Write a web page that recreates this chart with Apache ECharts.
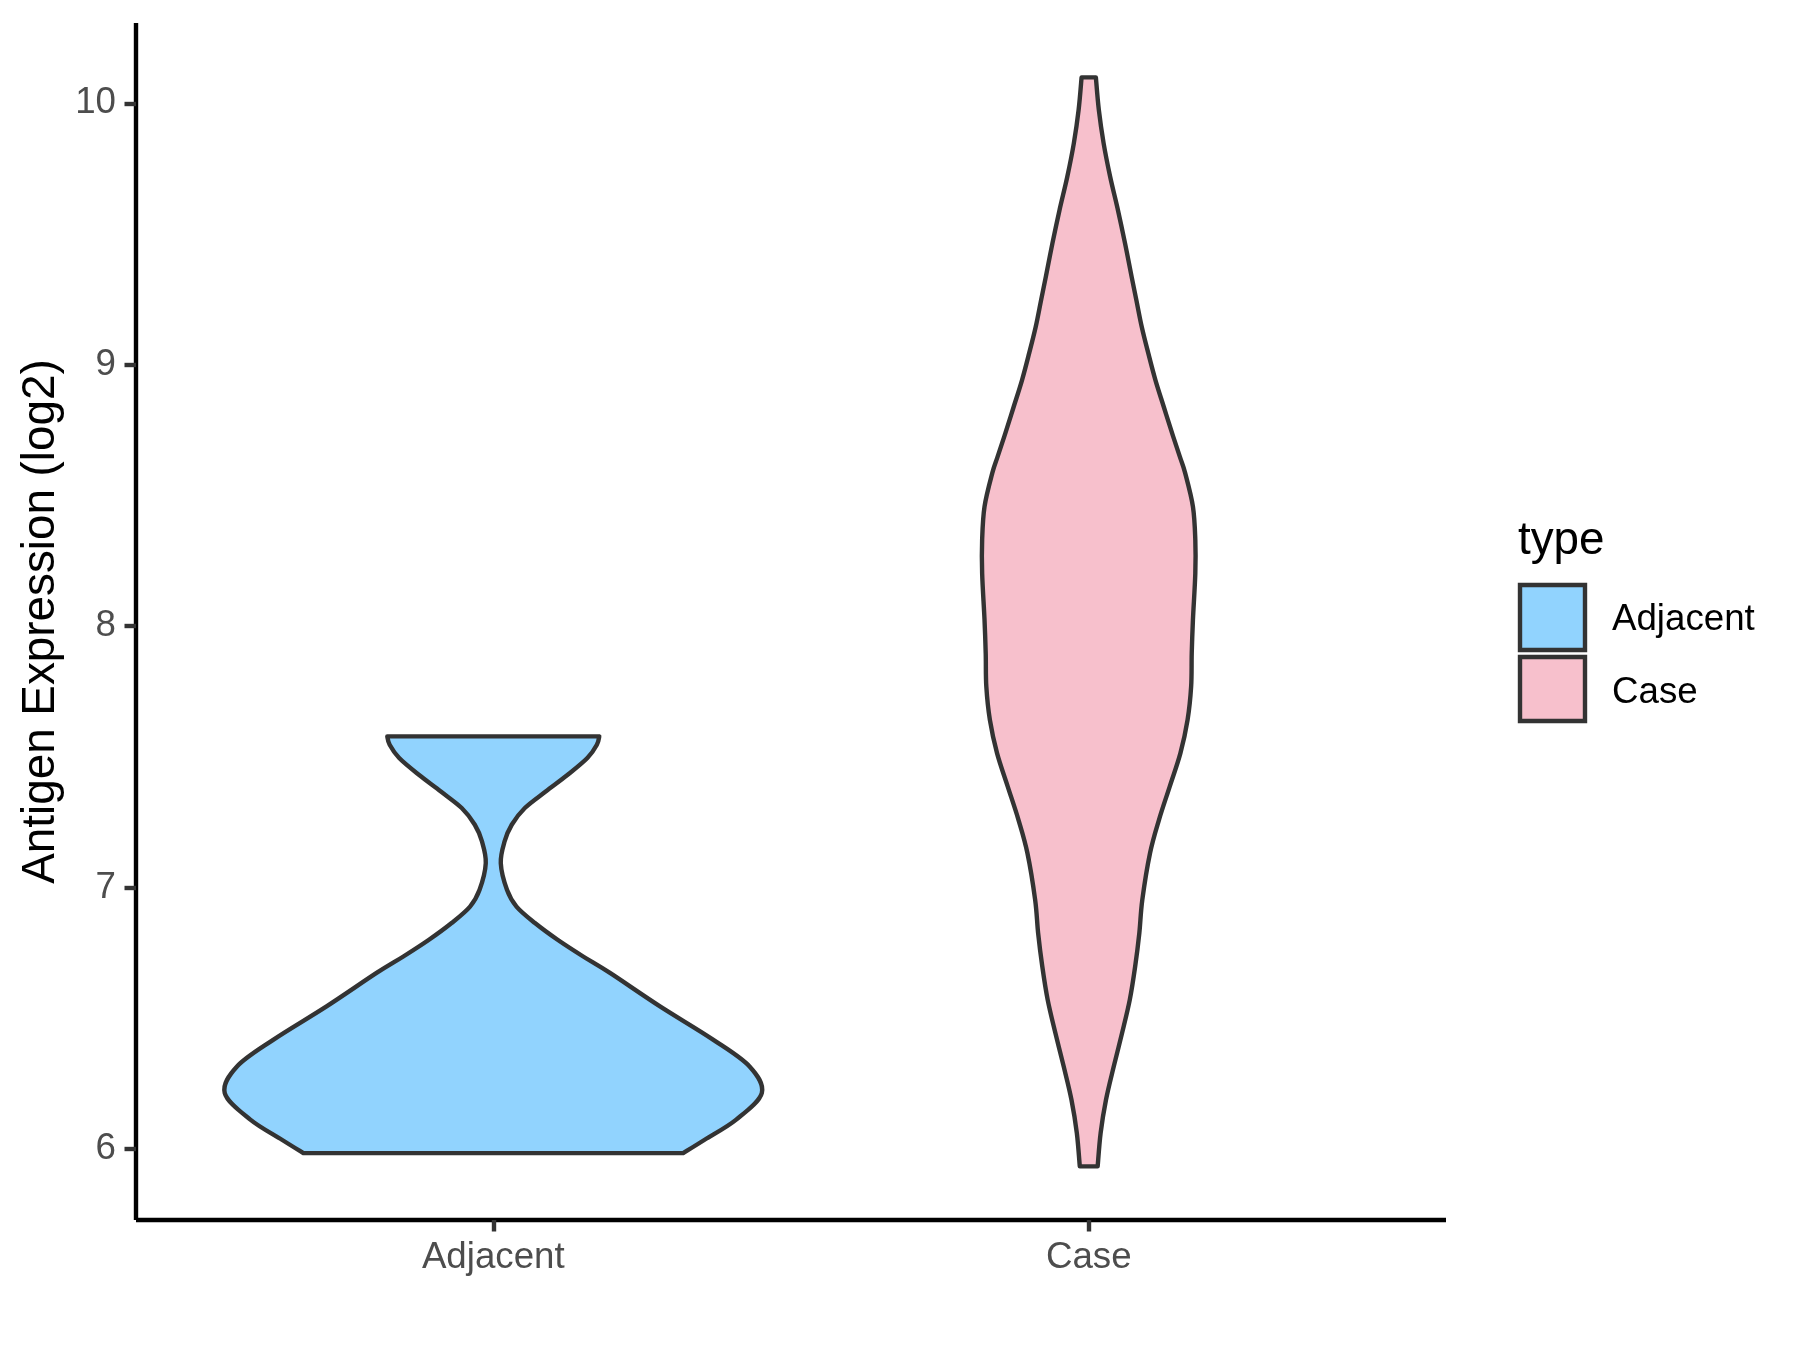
<!DOCTYPE html>
<html><head><meta charset="utf-8">
<script src="https://cdn.jsdelivr.net/npm/echarts@6/dist/echarts.min.js"></script>
<style>html,body{margin:0;padding:0;background:#fff}#c{width:1800px;height:1350px}</style>
</head><body><div id="c"></div>
<script>
const categories = ['Adjacent', 'Case'];
const yTicks = [6, 7, 8, 9, 10];
const yTitle = 'Antigen Expression (log2)';
const legendTitle = 'type';

// violin outlines: expression value and half-width (in category units)
const adjacentY = [5.984, 6.035, 6.112, 6.214, 6.316, 6.418, 6.545, 6.673, 6.736, 6.80, 6.864, 6.927, 6.991, 7.093, 7.176, 7.240, 7.304, 7.367, 7.431, 7.495, 7.546, 7.578];
const adjacentHalfWidth = [0.319, 0.355, 0.408, 0.451, 0.430, 0.369, 0.280, 0.196, 0.151, 0.108, 0.070, 0.039, 0.023, 0.0126, 0.019, 0.031, 0.053, 0.088, 0.125, 0.158, 0.174, 0.178];
const caseY = [5.933, 6.061, 6.188, 6.315, 6.443, 6.571, 6.698, 6.826, 6.953, 7.132, 7.259, 7.386, 7.514, 7.641, 7.769, 7.896, 8.024, 8.202, 8.330, 8.457, 8.585, 8.648, 8.738, 8.839, 8.941, 9.044, 9.145, 9.247, 9.337, 9.464, 9.592, 9.719, 9.847, 9.974, 10.099];
const caseHalfWidth = [0.015, 0.020, 0.029, 0.042, 0.056, 0.069, 0.078, 0.085, 0.090, 0.103, 0.118, 0.136, 0.154, 0.166, 0.172, 0.173, 0.175, 0.179, 0.179, 0.175, 0.162, 0.153, 0.140, 0.126, 0.112, 0.100, 0.089, 0.080, 0.072, 0.061, 0.049, 0.036, 0.025, 0.017, 0.012];

const fillColors = ['#91D3FE', '#F7C0CC'];
const FONT = '"Liberation Sans", Arial, sans-serif';

function smoothSeg(pts) {
  let d = '';
  const n = pts.length;
  for (let i = 0; i < n - 1; i++) {
    const p0 = pts[Math.max(i - 1, 0)], p1 = pts[i], p2 = pts[i + 1], p3 = pts[Math.min(i + 2, n - 1)];
    const c1 = [p1[0] + (p2[0] - p0[0]) / 6, p1[1] + (p2[1] - p0[1]) / 6];
    const c2 = [p2[0] - (p3[0] - p1[0]) / 6, p2[1] - (p3[1] - p1[1]) / 6];
    d += ' C' + c1[0] + ' ' + c1[1] + ' ' + c2[0] + ' ' + c2[1] + ' ' + p2[0] + ' ' + p2[1];
  }
  return d;
}

function violinSeries(idx, ys, hw) {
  return {
    type: 'custom',
    name: categories[idx],
    coordinateSystem: 'cartesian2d',
    encode: { x: 0, y: 1 },
    data: [[idx + 1, ys[0]]],
    renderItem: function (params, api) {
      const c = idx + 1;
      const right = ys.map((y, i) => api.coord([c + hw[i], y]));
      const left = ys.map((y, i) => api.coord([c - hw[i], y])).reverse();
      const d = 'M' + right[0][0] + ' ' + right[0][1] + smoothSeg(right) +
        ' L' + left[0][0] + ' ' + left[0][1] + smoothSeg(left) + ' Z';
      return {
        type: 'path',
        shape: { pathData: d },
        style: { fill: fillColors[idx], stroke: '#333333', lineWidth: 4.4, lineJoin: 'round' }
      };
    }
  };
}

const chart = echarts.init(document.getElementById('c'), null, { renderer: 'canvas' });
chart.setOption({
  backgroundColor: '#ffffff',
  animation: false,
  grid: { left: 136, right: 354, top: 23, bottom: 130 },
  xAxis: {
    type: 'value', min: 0.4, max: 2.6,
    axisLine: { show: true, onZero: false, lineStyle: { color: '#000000', width: 4.4, cap: 'butt' } },
    axisTick: { show: true, customValues: [1, 2], length: 11.5, lineStyle: { color: '#333333', width: 4.4 } },
    axisLabel: { customValues: [1, 2], formatter: v => categories[Math.round(v) - 1], margin: 19,
      color: '#4D4D4D', fontSize: 36.7, fontFamily: FONT },
    splitLine: { show: false }
  },
  yAxis: {
    type: 'value', min: 5.728, max: 10.307,
    name: yTitle, nameLocation: 'middle', nameGap: 72, nameRotate: 90,
    nameTextStyle: { color: '#000000', fontSize: 45.8, fontFamily: FONT },
    axisLine: { show: true, onZero: false, lineStyle: { color: '#000000', width: 4.4, cap: 'butt' } },
    axisTick: { show: true, customValues: yTicks, length: 11.5, lineStyle: { color: '#333333', width: 4.4 } },
    axisLabel: { customValues: yTicks, margin: 20, color: '#4D4D4D', fontSize: 36.7, fontFamily: FONT },
    splitLine: { show: false }
  },
  series: [
    violinSeries(0, adjacentY, adjacentHalfWidth),
    violinSeries(1, caseY, caseHalfWidth)
  ],
  graphic: [
    { type: 'text', left: 1518, top: 518, style: { text: legendTitle, fill: '#000', fontSize: 45.8, fontFamily: FONT } },
    { type: 'rect', shape: { x: 1520, y: 585, width: 65, height: 65 }, style: { fill: fillColors[0], stroke: '#333333', lineWidth: 4.4 } },
    { type: 'rect', shape: { x: 1520, y: 657, width: 65, height: 64 }, style: { fill: fillColors[1], stroke: '#333333', lineWidth: 4.4 } },
    { type: 'text', x: 1612, y: 620, style: { text: categories[0], fill: '#000', fontSize: 36.7, fontFamily: FONT, verticalAlign: 'middle' } },
    { type: 'text', x: 1612, y: 693, style: { text: categories[1], fill: '#000', fontSize: 36.7, fontFamily: FONT, verticalAlign: 'middle' } }
  ]
});
</script>
</body></html>
